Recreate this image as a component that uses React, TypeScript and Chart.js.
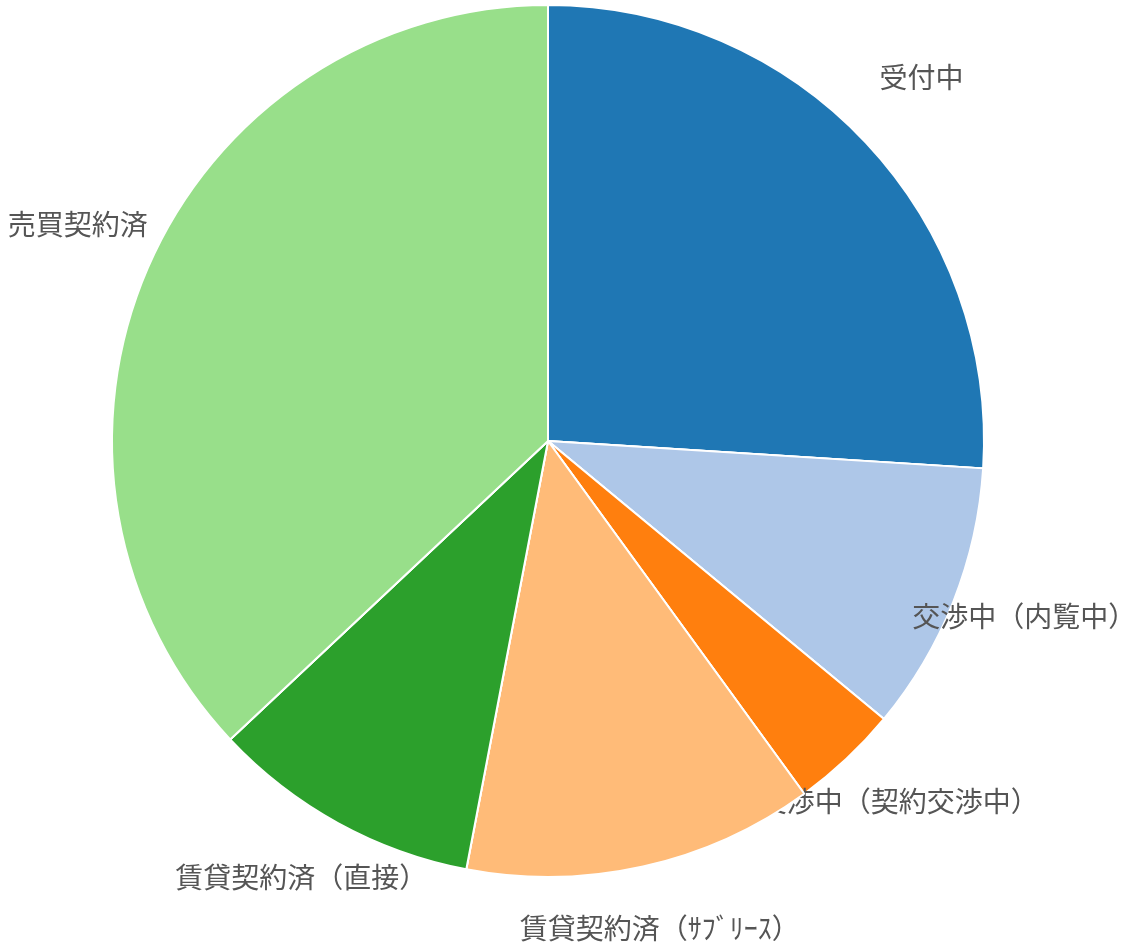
import React, { useEffect, useRef } from "react";
import { Chart, registerables } from "chart.js";

Chart.register(...registerables);

const categories = [
  "受付中",
  "交渉中（内覧中）",
  "交渉中（契約交渉中）",
  "賃貸契約済（ｻﾌﾞﾘｰｽ）",
  "賃貸契約済（直接）",
  "売買契約済",
];
const values = [26, 10, 4, 13, 10, 37];
const colors = ["#1f77b4", "#aec7e8", "#ff7f0e", "#ffbb78", "#2ca02c", "#98df8a"];

const labelPlugin = {
  id: "sliceLabels",
  afterDatasetsDraw(chart: any) {
    const ctx = chart.ctx;
    const meta = chart.getDatasetMeta(0);
    const arcs = meta.data;
    for (let i = 0; i < arcs.length; i++) {
      const arc = arcs[i];
      const { x, y, startAngle, endAngle, outerRadius } = arc.getProps(
        ["x", "y", "startAngle", "endAngle", "outerRadius"],
        true
      );
      const mid = (startAngle + endAngle) / 2;
      const r = outerRadius * 1.175;
      const lx = x + Math.cos(mid) * r;
      const ly = y + Math.sin(mid) * r - 13;
      ctx.save();
      ctx.font = '28px "Noto Sans CJK JP", sans-serif';
      ctx.fillStyle = "#555555";
      ctx.textAlign = "center";
      ctx.textBaseline = "middle";
      ctx.fillText(chart.data.labels[i], lx, ly);
      ctx.restore();
      for (let j = i + 1; j < arcs.length; j++) {
        arcs[j].draw(ctx, chart.chartArea);
      }
    }
  },
};

export default function App() {
  const ref = useRef<HTMLCanvasElement | null>(null);
  useEffect(() => {
    if (!ref.current) return;
    const chart = new Chart(ref.current, {
      type: "pie",
      data: {
        labels: categories,
        datasets: [
          {
            data: values,
            backgroundColor: colors,
            borderColor: "#ffffff",
            borderWidth: 2,
          },
        ],
      },
      options: {
        responsive: false,
        animation: false,
        layout: { padding: { left: 111, right: 137, top: 4, bottom: 68 } },
        plugins: {
          legend: { display: false },
          tooltip: { enabled: false },
        },
      },
      plugins: [labelPlugin],
    });
    return () => chart.destroy();
  }, []);
  return (
    <div style={{ position: "fixed", left: 0, top: 0, width: 1122, height: 946, background: "#fff" }}>
      <canvas ref={ref} width={1122} height={946} style={{ display: "block" }} />
    </div>
  );
}
